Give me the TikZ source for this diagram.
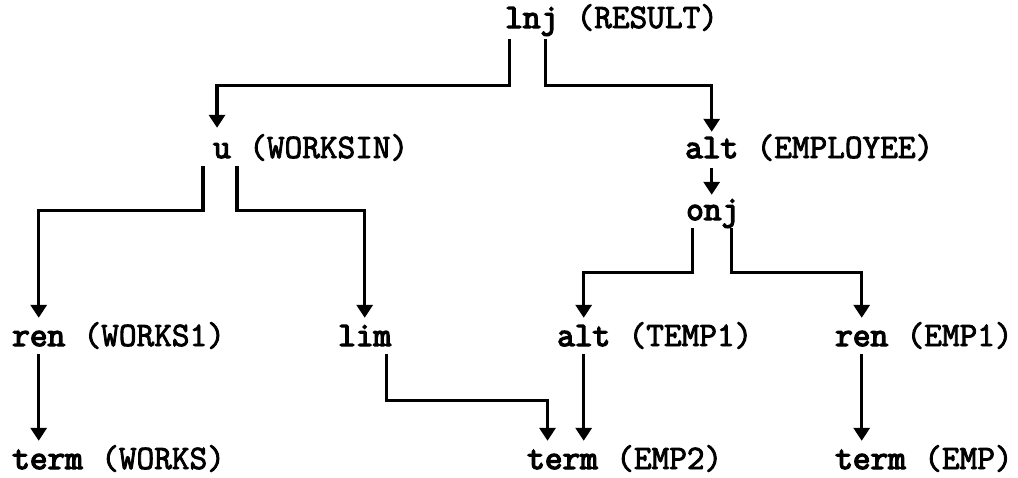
\documentclass[tikz,border=0pt]{standalone}
\usepackage{fontspec}
\newfontfamily\opfont{Latin Modern Mono}[FakeBold=4]
\newfontfamily\labfont{Latin Modern Mono}[FakeBold=2.5]
\usetikzlibrary{arrows.meta,calc}
\begin{document}
\begin{tikzpicture}[x=1pt,y=-1pt,
  op/.style={inner sep=0pt, anchor=base west, text height=22pt, text depth=6pt,
    font=\fontsize{34.3}{34.3}\selectfont\opfont},
  lab/.style={inner sep=0pt, anchor=base west,
    font=\fontsize{34.3}{34.3}\selectfont\labfont},
  conn/.style={line width=3.4pt, -{Triangle[width=16pt,length=13pt]},
    shorten >=6pt, shorten <=2pt}]
\useasboundingbox (0,0) rectangle (1018,477);
% row 0
\node[op] (lnj) at (505,28) {lnj};
\node[lab] (lnjL) at ([xshift=18pt]lnj.base east) {(RESULT)};
% row 1
\node[op] (u) at (213,158) {u};
\node[lab] (uL) at ([xshift=18pt]u.base east) {(WORKSIN)};
\node[op] (altE) at (685,158) {alt};
\node[lab] (altEL) at ([xshift=18pt]altE.base east) {(EMPLOYEE)};
% row 2
\node[op] (onj) at (686,220) {onj};
% row 3
\node[op] (renW) at (12,346) {ren};
\node[lab] (renWL) at ([xshift=18pt]renW.base east) {(WORKS1)};
\node[op] (lim) at (338,346) {lim};
\node[op] (altT) at (557,346) {alt};
\node[lab] (altTL) at ([xshift=18pt]altT.base east) {(TEMP1)};
\node[op] (renE) at (835,346) {ren};
\node[lab] (renEL) at ([xshift=18pt]renE.base east) {(EMP1)};
% row 4
\node[op] (termW) at (12,469) {term};
\node[lab] (termWL) at ([xshift=18pt]termW.base east) {(WORKS)};
\node[op] (termT) at (527,469) {term};
\node[lab] (termTL) at ([xshift=18pt]termT.base east) {(EMP2)};
\node[op] (termE) at (835,469) {term};
\node[lab] (termEL) at ([xshift=18pt]termE.base east) {(EMP)};
% connectors
\draw[conn, shorten <=5pt, shorten >=8pt] ([xshift=-22pt]lnj.south) -- ++(0,51) -| ([xshift=-5pt]u.north);
\draw[conn, shorten <=5pt, shorten >=4pt] ([xshift=14pt]lnj.south) -- ++(0,51) -| (altE.north);
\draw[conn, shorten <=4pt, shorten >=3pt] (altE.south) -- (altE.south |- onj.north);
\draw[conn] ([xshift=-19pt]u.south) -- ++(0,46) -| (renW.north);
\draw[conn] ([xshift=15pt]u.south) -- ++(0,46) -| (lim.north);
\draw[conn] ([xshift=-20pt]onj.south) -- ++(0,46) -| (altT.north);
\draw[conn] ([xshift=19pt]onj.south) -- ++(0,46) -| (renE.north);
\draw[conn] (renW.south) -- (renW.south |- termW.north);
\draw[conn] ([xshift=22pt]lim.south) -- ++(0,48) -| ([xshift=-15pt]termT.north);
\draw[conn] (altT.south) -- (altT.south |- termT.north);
\draw[conn] (renE.south) -- (renE.south |- termE.north);
\end{tikzpicture}
\end{document}
